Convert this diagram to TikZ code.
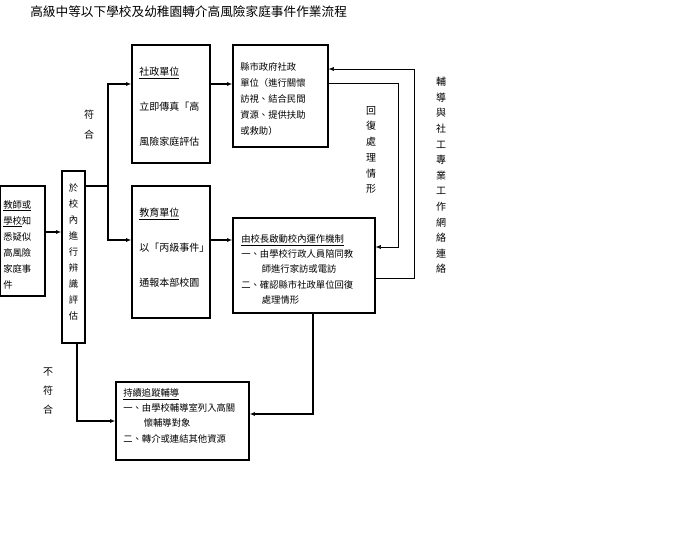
\documentclass[tikz,border=0pt]{standalone}
\usepackage{fontspec}
\setmainfont{Noto Sans CJK TC}
\usetikzlibrary{arrows.meta}
\begin{document}
\begin{tikzpicture}[x=0.75pt,y=-0.75pt,
 box/.style={draw,thick,inner sep=0pt},
 txt/.style={anchor=north west,align=left,inner sep=0pt,font=\fontsize{7.5}{12}\selectfont},
 vt/.style={anchor=north,align=center,inner sep=0pt,font=\fontsize{7.5}{11.7}\selectfont},
 arr/.style={-{Latex[length=4pt,width=3pt]}},
 ln/.style={thick}]
\useasboundingbox (0,0) rectangle (700,541);
\node[anchor=north west,inner sep=0pt,font=\fontsize{9.5}{11}\selectfont] (title) at (30,5) {高級中等以下學校及幼稚園轉介高風險家庭事件作業流程};
\node[box,minimum width=33.75pt,minimum height=82.5pt] (lb) at (22.5,241) {};
\node[txt,font=\fontsize{7}{12}\selectfont] (lbt) at (3,200) {\underline{教師或}\\\underline{學校}知\\悉疑似\\高風險\\家庭事\\件};
\node[box,minimum width=17.25pt,minimum height=129pt] (ev) at (73.5,257) {};
\node[vt,font=\fontsize{7}{12}\selectfont] (evt) at (73.5,183) {於\\校\\內\\進\\行\\辨\\識\\評\\估};
\node[box,minimum width=58.5pt,minimum height=88.5pt] (sz) at (171,104) {};
\node[txt,font=\fontsize{7.5}{26}\selectfont] (szt) at (139,67) {\underline{社政單位}\\立即傳真「高\\風險家庭評估};
\node[box,minimum width=58.5pt,minimum height=99pt] (jy) at (171,252) {};
\node[txt,font=\fontsize{7.5}{26}\selectfont] (jyt) at (139,208) {\underline{教育單位}\\以「丙級事件」\\通報本部校園};
\node[box,minimum width=71.25pt,minimum height=76.5pt] (gov) at (280.5,96) {};
\node[txt,font=\fontsize{7}{12}\selectfont] (govt) at (240,62) {縣市政府社政\\單位（進行關懷\\訪視、結合民間\\資源、提供扶助\\或救助）};
\node[box,minimum width=106.5pt,minimum height=71.25pt] (pr) at (304,265.5) {};
\node[txt,font=\fontsize{7}{11.5}\selectfont] (prt) at (241,234) {\underline{由校長啟動校內運作機制}\\一、由學校行政人員陪同教\\\hspace*{2.2em}師進行家訪或電訪\\二、確認縣市社政單位回復\\\hspace*{2.2em}處理情形};
\node[box,minimum width=99.75pt,minimum height=58.5pt] (fu) at (182.5,421) {};
\node[txt,font=\fontsize{7}{11.5}\selectfont] (fut) at (123,388) {\underline{持續追蹤輔導}\\一、由學校輔導室列入高關\\\hspace*{2.2em}懷輔導對象\\二、轉介或連結其他資源};
\node[vt,font=\fontsize{7.5}{15}\selectfont] (fh) at (89,110) {符\\合};
\node[vt,font=\fontsize{7.5}{14}\selectfont] (bfh) at (48,368) {不\\符\\合};
\node[vt,font=\fontsize{7.5}{11.8}\selectfont] (hf) at (371,106) {回\\復\\處\\理\\情\\形};
\node[vt] (net) at (441,77) {輔\\導\\與\\社\\工\\專\\業\\工\\作\\網\\絡\\連\\絡};
\coordinate (t) at (108,186);
\draw[ln,arr] (lb.east |- 0,232) -- (ev.west |- 0,232);
\draw[ln] (ev.east |- 0,186) -- (t);
\draw[ln,arr] (t) |- (sz.west |- 0,84);
\draw[ln,arr] (t) |- (jy.west |- 0,240);
\draw[ln,arr] (sz.east |- 0,84) -- (gov.west |- 0,84);
\draw[ln,arr] (jy.east |- 0,240) -- (pr.west |- 0,240);
\draw[thin,arr] (gov.east |- 0,83) -| (398,247) -- (pr.east |- 0,247);
\draw[thin,arr] (pr.east |- 0,278) -| (414,69) -- (gov.east |- 0,69);
\draw[ln,arr] (313,313) |- (fu.east |- 0,414);
\draw[ln,arr] (77,343) |- (fu.west |- 0,421);
\end{tikzpicture}
\end{document}
